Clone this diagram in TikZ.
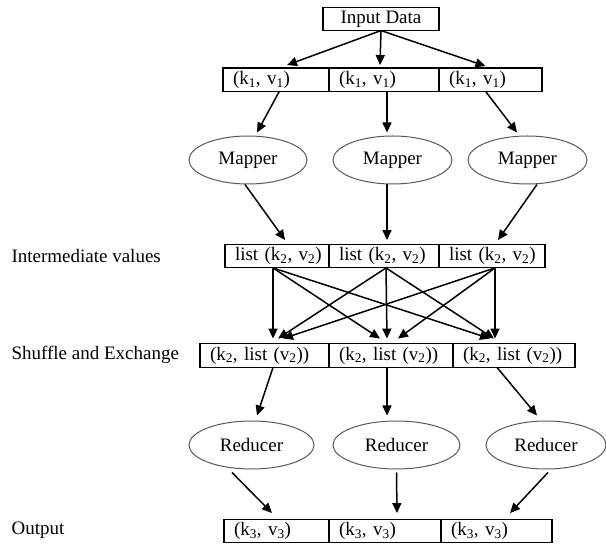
\documentclass[tikz,border=0pt]{standalone}
\usepackage{fontspec}
\setmainfont{Liberation Serif}
\usetikzlibrary{arrows.meta, shapes.geometric, positioning}
\tikzset{>={Triangle[length=10pt,width=9pt]}}

\begin{document}
\begin{tikzpicture}[x=1pt, y=-1pt, font=\fontsize{19pt}{22pt}\selectfont,
	cell/.style={draw, line width=1.1pt, outer sep=0pt, inner xsep=10pt, minimum height=22pt, anchor=west},
	worker/.style={draw=black!65, line width=1pt, ellipse, minimum height=48pt, inner sep=0pt},
	flow/.style={->, line width=1.5pt}]
		\useasboundingbox (0,0) rectangle (606,545);
		\node[draw, line width=1.1pt, outer sep=0pt, minimum width=116pt, minimum height=22pt] (input) at (381,19) {Input Data};
		% first key/value row
		\node[cell, text width=86pt] (k1a) at (223,80) {(k\textsubscript{1}, v\textsubscript{1})};
		\node[cell, text width=90pt, right=0pt of k1a] (k1b) {(k\textsubscript{1}, v\textsubscript{1})};
		\node[cell, text width=83pt, right=0pt of k1b] (k1c) {(k\textsubscript{1}, v\textsubscript{1})};
		\node[worker, minimum width=118pt] (map1) at (248,160) {Mapper};
		\node[worker, minimum width=119pt] (map2) at (392.5,160) {Mapper};
		\node[worker, minimum width=119pt] (map3) at (527.5,160) {Mapper};
		% intermediate row
		\node[anchor=west] (lblinter) at (8,256) {Intermediate values};
		\node[cell, text width=84pt] (inter1) at (225,256) {\mbox{list (k\textsubscript{2}, v\textsubscript{2})}};
		\node[cell, text width=90pt, right=0pt of inter1] (inter2) {\mbox{list (k\textsubscript{2}, v\textsubscript{2})}};
		\node[cell, text width=86pt, right=0pt of inter2] (inter3) {\mbox{list (k\textsubscript{2}, v\textsubscript{2})}};
		% shuffle row
		\node[anchor=west] (lblshuf) at (8,355) {Shuffle and Exchange};
		\node[cell, text width=109pt] (shuf1) at (200,355.5) {\mbox{(k\textsubscript{2}, list (v\textsubscript{2}))}};
		\node[cell, text width=104pt, right=0pt of shuf1] (shuf2) {\mbox{(k\textsubscript{2}, list (v\textsubscript{2}))}};
		\node[cell, text width=102pt, right=0pt of shuf2] (shuf3) {\mbox{(k\textsubscript{2}, list (v\textsubscript{2}))}};
		\node[worker, minimum width=125pt] (red1) at (251.5,445) {Reducer};
		\node[worker, minimum width=127pt] (red2) at (396.5,445) {Reducer};
		\node[worker, minimum width=120pt] (red3) at (546,445) {Reducer};
		% output row
		\node[anchor=west] (lblout) at (8,530) {Output};
		\node[cell, text width=85pt] (out1) at (224,531) {(k\textsubscript{3}, v\textsubscript{3})};
		\node[cell, text width=92pt, right=0pt of out1] (out2) {(k\textsubscript{3}, v\textsubscript{3})};
		\node[cell, text width=91pt, right=0pt of out2] (out3) {(k\textsubscript{3}, v\textsubscript{3})};

		\draw[flow] (input.south) -- ([xshift=11pt,yshift=3pt]k1a.north);
		\draw[flow] (input.south) -- ([xshift=-4pt,yshift=3pt]k1b.north);
		\draw[flow] (input.south) -- ([xshift=-5pt,yshift=2pt]k1c.north);
		\draw[flow] ([xshift=3pt]k1a.south) -- ([xshift=9pt,yshift=3pt]map1.north);
		\draw[flow] ([xshift=3pt]k1b.south) -- ([xshift=-5.5pt,yshift=3pt]map2.north);
		\draw[flow] ([xshift=-4.5pt]k1c.south) -- ([xshift=-10.5pt,yshift=3pt]map3.north);
		\draw[flow] ([xshift=-3pt]map1.south) -- ([xshift=8pt,yshift=4pt]inter1.north);
		\draw[flow] ([xshift=-5.5pt]map2.south) -- ([xshift=3pt,yshift=4pt]inter2.north);
		\draw[flow] ([xshift=9.5pt]map3.south) -- ([xshift=6pt,yshift=4pt]inter3.north);
		% shuffle: every list goes to every key
		\coordinate (src1) at ([xshift=-4pt]inter1.south);
		\coordinate (src2) at ([xshift=2pt]inter2.south);
		\coordinate (src3) at ([xshift=3pt]inter3.south);
		\draw[flow] (src1) -- ([xshift=8.5pt,yshift=5pt]shuf1.north);
		\draw[flow] (src1) -- ([xshift=-11pt,yshift=5pt]shuf2.north);
		\draw[flow] (src1) -- ([xshift=-24pt,yshift=5pt]shuf3.north);
		\draw[flow] (src2) -- ([xshift=13.5pt,yshift=5pt]shuf1.north);
		\draw[flow] (src2) -- ([xshift=-4pt,yshift=5pt]shuf2.north);
		\draw[flow] (src2) -- ([xshift=-20pt,yshift=5pt]shuf3.north);
		\draw[flow] (src3) -- ([xshift=18.5pt,yshift=5pt]shuf1.north);
		\draw[flow] (src3) -- ([xshift=7pt,yshift=5pt]shuf2.north);
		\draw[flow] (src3) -- ([xshift=-19pt,yshift=5pt]shuf3.north);
		\draw[flow] ([xshift=8.5pt]shuf1.south) -- ([xshift=5.5pt,yshift=5pt]red1.north);
		\draw[flow] ([xshift=-4pt]shuf2.south) -- ([xshift=-9.5pt,yshift=5pt]red2.north);
		\draw[flow] ([xshift=-17pt]shuf3.south) -- ([xshift=-9pt,yshift=5pt]red3.north);
		\draw[flow] ([xshift=-19.5pt,yshift=-3pt]red1.south) -- ([xshift=-4.5pt,yshift=6pt]out1.north);
		\draw[flow] ([yshift=-3pt]red2.south) -- ([xshift=12pt,yshift=6pt]out2.north);
		\draw[flow] ([xshift=2pt,yshift=-3pt]red3.south) -- ([xshift=13.5pt,yshift=6pt]out3.north);
\end{tikzpicture}
\end{document}
